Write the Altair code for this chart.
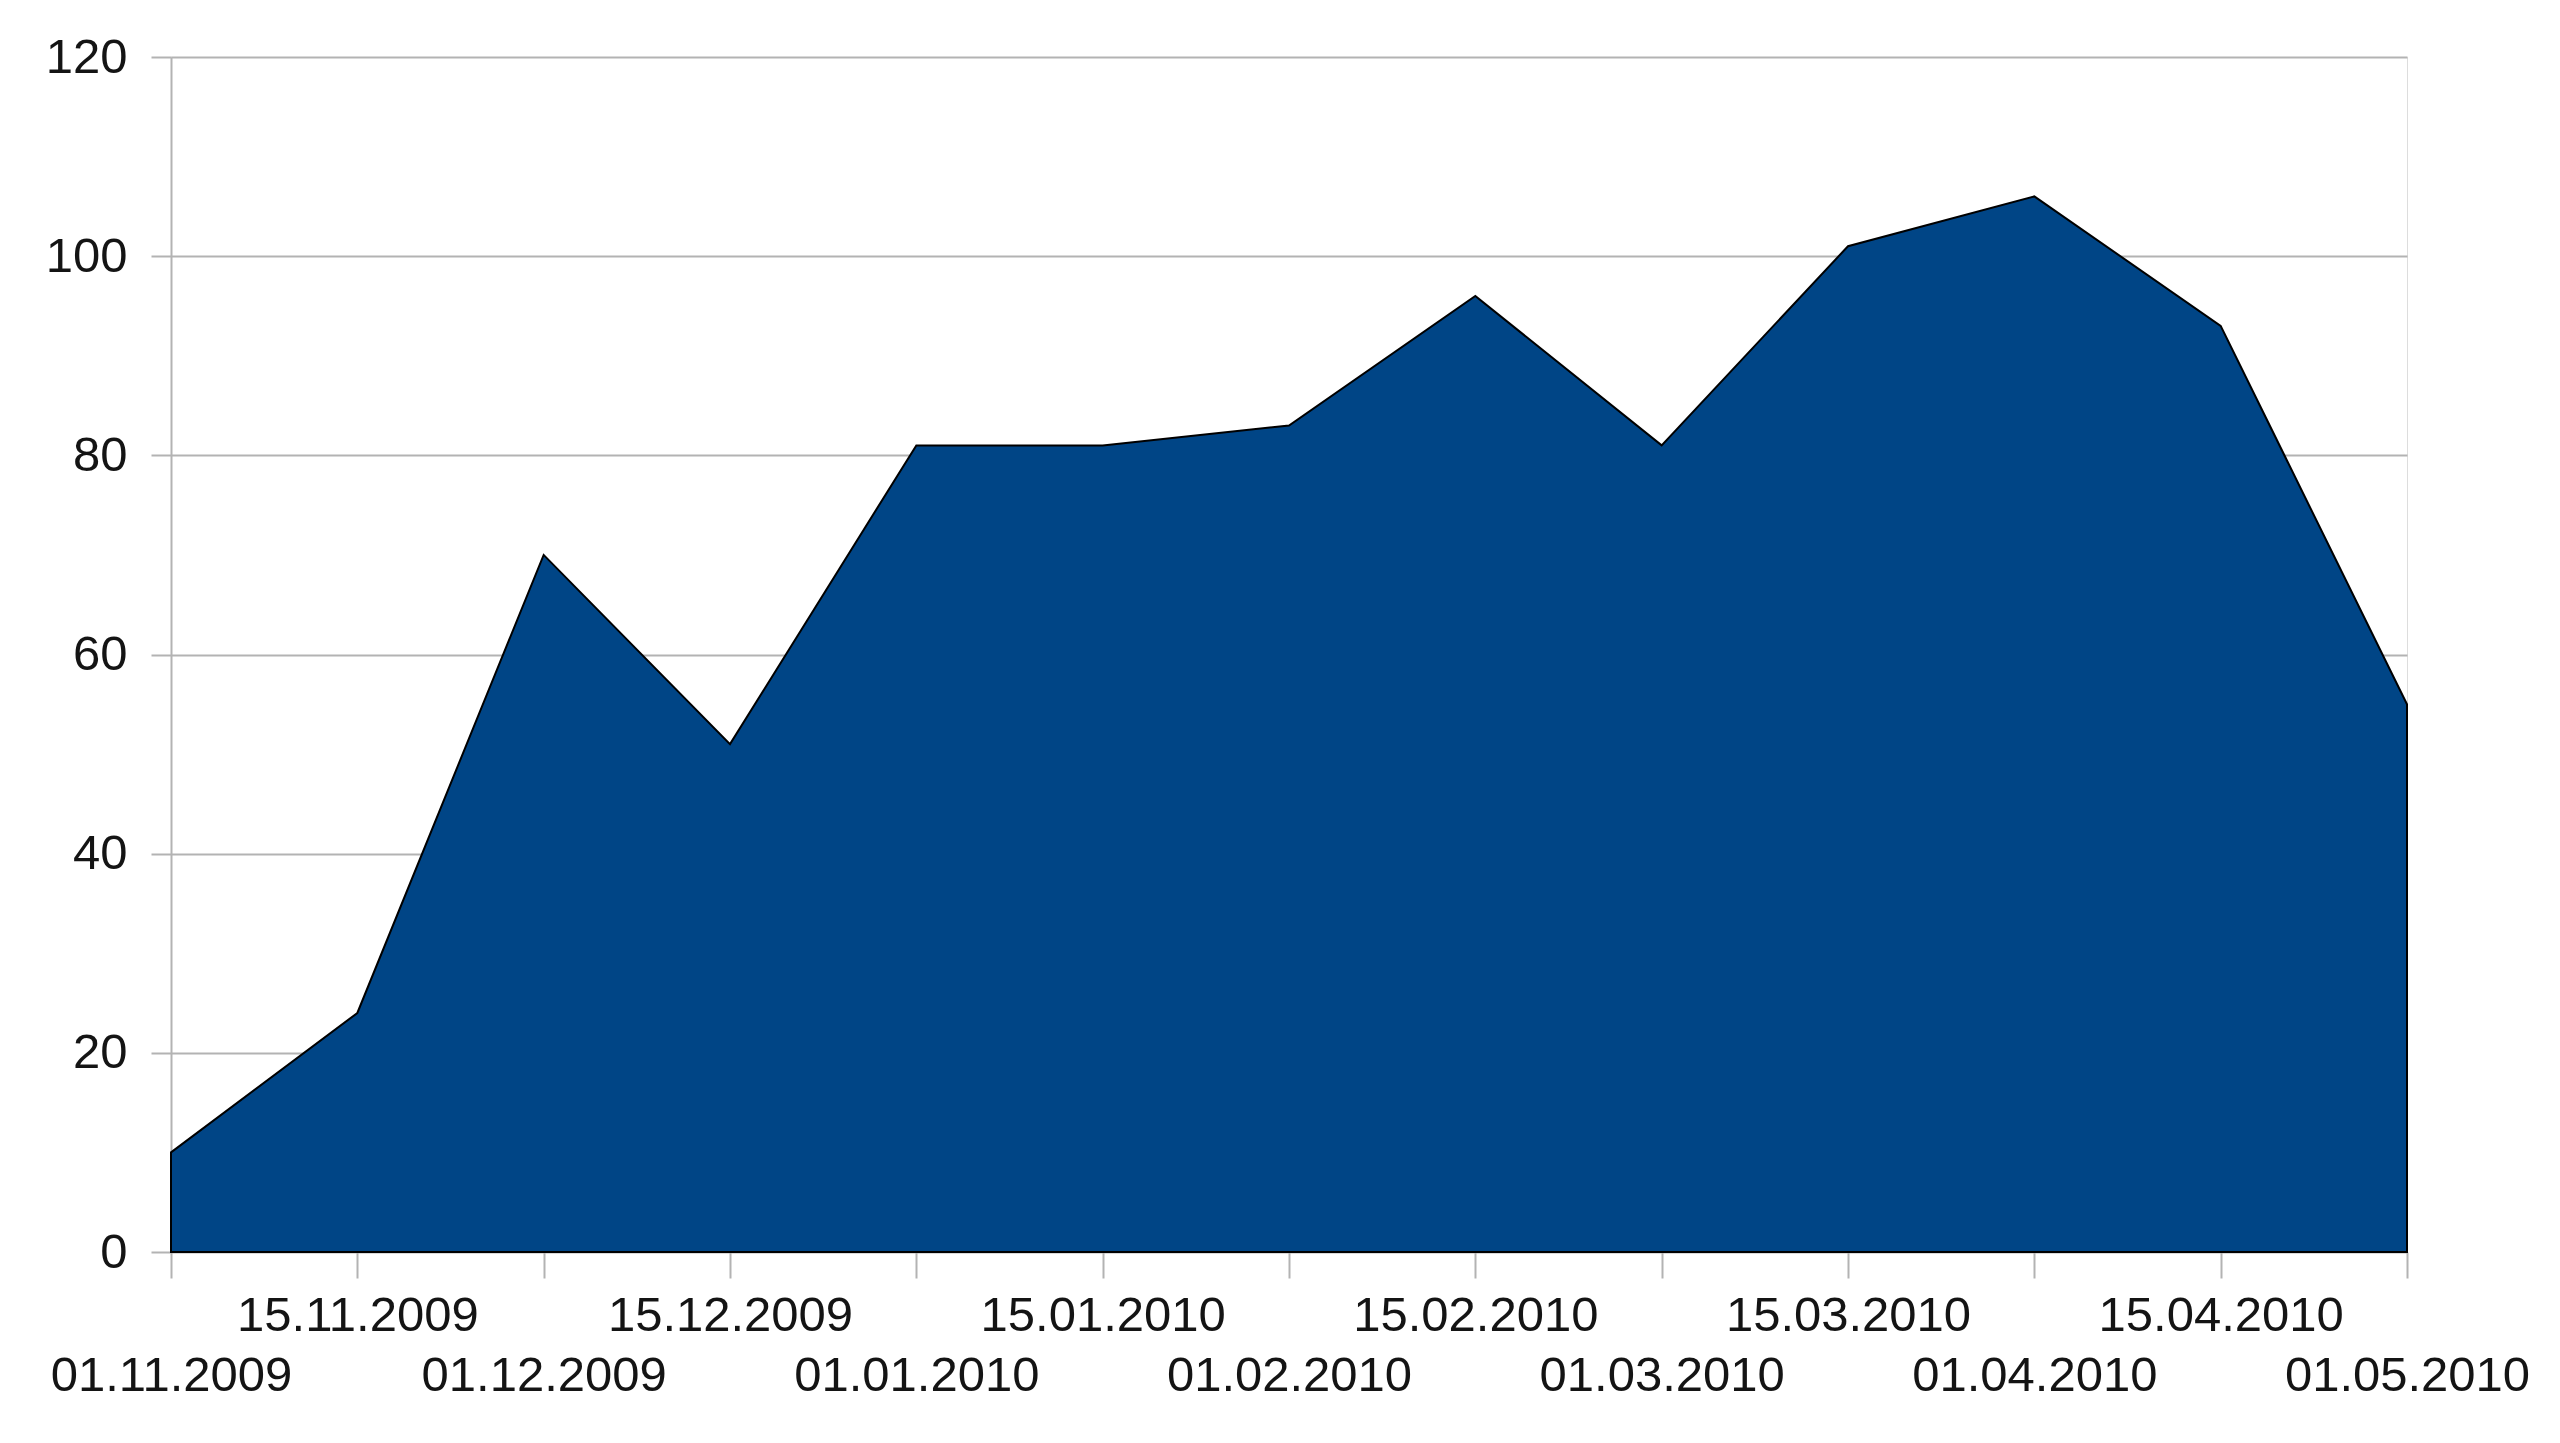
import altair as alt
import pandas as pd

dates = ["01.11.2009", "15.11.2009", "01.12.2009", "15.12.2009", "01.01.2010",
         "15.01.2010", "01.02.2010", "15.02.2010", "01.03.2010", "15.03.2010",
         "01.04.2010", "15.04.2010", "01.05.2010"]
values = [10, 24, 70, 51, 81, 81, 83, 96, 81, 101, 106, 93, 55]
y_ticks = [0, 20, 40, 60, 80, 100, 120]

df = pd.DataFrame({"date": dates, "value": values})

GRID = "#b3b3b3"
FONT = "Liberation Sans"

chart = alt.Chart(df).mark_area(
    fill="#004586", stroke="#000000", strokeWidth=2
).encode(
    x=alt.X(
        "date:O", sort=dates,
        scale=alt.Scale(type="point", padding=0),
        axis=alt.Axis(
            title=None, labelAngle=0, labelOverlap=False, labelBaseline="top",
            labelAlign="center", labelLimit=1000,
            labelExpr="slice(datum.label,0,2)=='15' ? datum.label : ['', datum.label]",
            labelLineHeight=60, tickSize=26, tickColor=GRID, tickWidth=2,
            domain=False, grid=False, labelFontSize=49, labelFont=FONT,
            labelColor="#141414", labelPadding=13,
        ),
    ),
    y=alt.Y(
        "value:Q",
        scale=alt.Scale(domain=[0, 120], nice=False),
        axis=alt.Axis(
            title=None, values=y_ticks, grid=True, gridColor=GRID, gridWidth=2,
            domainColor=GRID, domainWidth=2, tickColor=GRID, tickWidth=2,
            tickSize=20, labelPadding=24, labelFontSize=49, labelFont=FONT,
            labelColor="#141414",
        ),
    ),
).properties(
    width=2236, height=1195,
    autosize=alt.AutoSizeParams(type="none"),
    padding={"left": 163, "top": 49, "right": 145, "bottom": 180},
).configure_view(
    stroke=GRID, strokeWidth=2
).configure(background="#ffffff")

chart.save("out.html", embed_options={"renderer": "svg", "actions": False})
